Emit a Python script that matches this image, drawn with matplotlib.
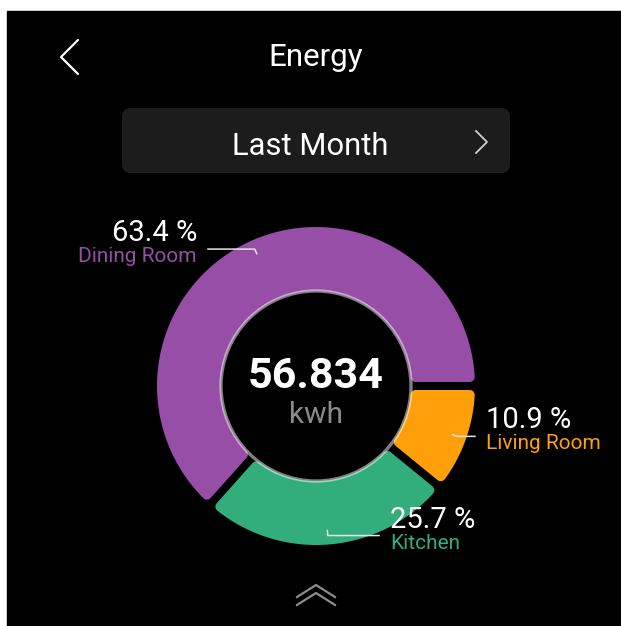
import numpy as np
import matplotlib.pyplot as plt
from matplotlib.patches import Polygon, Circle, FancyBboxPatch, Rectangle

plt.rcParams["font.family"] = ["Roboto", "DejaVu Sans"]

# energy split by room, percent of total
rooms = ["Dining Room", "Kitchen", "Living Room"]
shares = [63.4, 25.7, 10.9]
room_colors = ["#974ea6", "#31ae7c", "#ff9f0a"]
total_kwh = 56.834
unit = "kwh"
title = "Energy"
period = "Last Month"

# where each label's leader line ends (x, px) and which side the text sits on
label_end_x = [208, 379, 475]
label_side = ["left", "right", "right"]

W, H = 621, 626
cx, cy = 316, 386
r_out, r_in = 159, 95
gap = 8
stroke = 10  # rounded corners come from a same-colour stroke


def to_xy(r, ang):
    a = np.radians(ang)
    return cx + r * np.cos(a), cy - r * np.sin(a)


def ring_segment(a1, a2):
    ro = r_out - stroke / 2
    ri = r_in + stroke / 2
    h = gap / 2 + stroke / 2
    do = np.degrees(np.arcsin(h / ro))
    di = np.degrees(np.arcsin(h / ri))
    t_out = np.linspace(a1 + do, a2 - do, 120)
    t_in = np.linspace(a2 - di, a1 + di, 120)
    xo, yo = to_xy(ro, t_out)
    xi, yi = to_xy(ri, t_in)
    return np.column_stack([np.r_[xo, xi], np.r_[yo, yi]])


fig = plt.figure(figsize=(W / 100, H / 100), dpi=100, facecolor="white")
ax = fig.add_axes([0, 0, 1, 1])
ax.set_xlim(0, W)
ax.set_ylim(H, 0)
ax.axis("off")

ax.add_patch(Rectangle((7, 11), W, H, color="black", zorder=0))

# header
ax.plot([78, 61, 78], [40, 57, 74], color="white", lw=1.6, solid_capstyle="round")
ax.text(316, 66, title, color="white", fontsize=22.5, ha="center", va="baseline")

ax.add_patch(FancyBboxPatch((122, 108), 388, 65, boxstyle="round,pad=0,rounding_size=9",
                            fc="#1c1c1c", ec="none"))
ax.text(310, 155, period, color="white", fontsize=22.3, ha="center", va="baseline")
ax.plot([476, 487, 476], [131, 142, 153], color="#d0d0d0", lw=1.3)

# donut
bounds = np.r_[0, np.cumsum(shares)] / 100 * 360
for i, c in enumerate(room_colors):
    seg = ring_segment(bounds[i], bounds[i + 1])
    ax.add_patch(Polygon(seg, closed=True, fc=c, ec=c, lw=stroke * 0.72,
                         joinstyle="round", zorder=2))

ax.add_patch(Circle((cx, cy), r_in - 1, fc="black", ec="none", zorder=3))
ax.add_patch(Circle((cx, cy), r_in, fc="none", ec=(1, 1, 1, 0.5), lw=2.4, zorder=3))
ax.text(cx, 388, f"{total_kwh:.3f}", color="white", fontsize=31, fontweight="bold",
        ha="center", va="baseline", zorder=4)
ax.text(cx, 423, unit, color="#8a8a8a", fontsize=21.5, ha="center", va="baseline", zorder=4)

# leader lines and labels
for i, (name, v, c) in enumerate(zip(rooms, shares, room_colors)):
    mid = (bounds[i] + bounds[i + 1]) / 2
    x0, y0 = to_xy(145, mid)
    x1, y1 = to_xy(150, mid)
    xe = label_end_x[i]
    ax.plot([x0, x1, xe], [y0, y1, y1], color="#e6e6e6", lw=1.1, zorder=5)
    if label_side[i] == "left":
        tx, ha = xe - 11, "right"
    else:
        tx, ha = xe + 11, "left"
    ax.text(tx, y1 - 8, f"{v} %", color="white", fontsize=21, ha=ha, va="baseline", zorder=5)
    ax.text(tx, y1 + 13, name, color=c, fontsize=15, ha=ha, va="baseline", zorder=5)

# pull-up handle
ax.plot([297, 316, 335], [597, 585, 597], color="#8c8c8c", lw=1.6)
ax.plot([297, 316, 335], [605, 593, 605], color="#8c8c8c", lw=1.6)

fig.savefig("out.png", dpi=100, facecolor="white")
